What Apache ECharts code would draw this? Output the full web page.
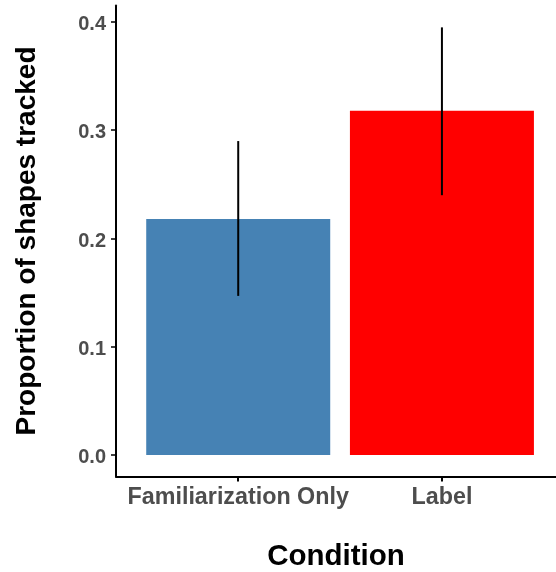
<!DOCTYPE html>
<html>
<head>
<meta charset="utf-8">
<script src="https://cdn.jsdelivr.net/npm/echarts@6/dist/echarts.min.js"></script>
<style>
html,body{margin:0;padding:0;background:#fff;}
#chart{width:556px;height:572px;}
</style>
</head>
<body>
<div id="chart"></div>
<script>
const categories = ["Familiarization Only", "Label"];
const means = [0.218, 0.318];
const lower = [0.147, 0.240];
const upper = [0.290, 0.395];
const barColors = ["#4682B4", "#FF0000"];
const yTicks = [0, 0.1, 0.2, 0.3, 0.4];
const positions = categories.map((c, i) => i + 1);

const FONT = "'Liberation Sans', Arial, Helvetica, sans-serif";
const chart = echarts.init(document.getElementById('chart'), null, {renderer: 'canvas'});

chart.setOption({
  animation: false,
  backgroundColor: '#ffffff',
  grid: {left: 116, right: 0, top: 5.5, bottom: 95.5, containLabel: false, outerBoundsMode: 'none'},
  xAxis: {
    type: 'value',
    min: 0.4,
    max: 2.56,
    name: 'Condition',
    nameLocation: 'middle',
    nameGap: 65,
    nameTextStyle: {fontFamily: FONT, fontWeight: 'bold', fontSize: 29.5, color: '#000000'},
    axisLine: {show: true, onZero: false, lineStyle: {color: '#000000', width: 2}},
    axisTick: {show: true, length: 5, customValues: positions, lineStyle: {color: '#000000', width: 2}},
    axisLabel: {
      customValues: positions,
      margin: 10,
      fontFamily: FONT, fontWeight: 'bold', fontSize: 23.3, color: '#4d4d4d',
      formatter: v => categories[Math.round(v) - 1] || ''
    },
    splitLine: {show: false}
  },
  yAxis: {
    type: 'value',
    min: -0.0198,
    max: 0.4152,
    name: 'Proportion of shapes tracked',
    nameLocation: 'middle',
    nameGap: 75,
    nameTextStyle: {fontFamily: FONT, fontWeight: 'bold', fontSize: 28, color: '#000000'},
    axisLine: {show: true, onZero: false, lineStyle: {color: '#000000', width: 2}},
    axisTick: {show: true, length: 5, customValues: yTicks, lineStyle: {color: '#000000', width: 1.5}},
    axisLabel: {
      customValues: yTicks,
      margin: 10,
      formatter: v => '{t|' + v.toFixed(1) + '}',
      rich: {
        t: {fontFamily: FONT, fontWeight: 'bold', fontSize: 20, color: '#4d4d4d', padding: [5, 0, 0, 0]}
      }
    },
    splitLine: {show: false}
  },
  series: [
    {
      type: 'bar',
      barWidth: 184,
      data: positions.map((p, i) => ({value: [p, means[i]], itemStyle: {color: barColors[i]}}))
    },
    {
      type: 'custom',
      renderItem: function (params, api) {
        const x = api.value(0);
        const p1 = api.coord([x, api.value(1)]);
        const p2 = api.coord([x, api.value(2)]);
        return {
          type: 'line',
          shape: {x1: p1[0], y1: p1[1], x2: p2[0], y2: p2[1]},
          style: {stroke: '#000000', lineWidth: 2}
        };
      },
      data: positions.map((p, i) => [p, lower[i], upper[i]]),
      z: 10
    }
  ]
});
</script>
</body>
</html>
